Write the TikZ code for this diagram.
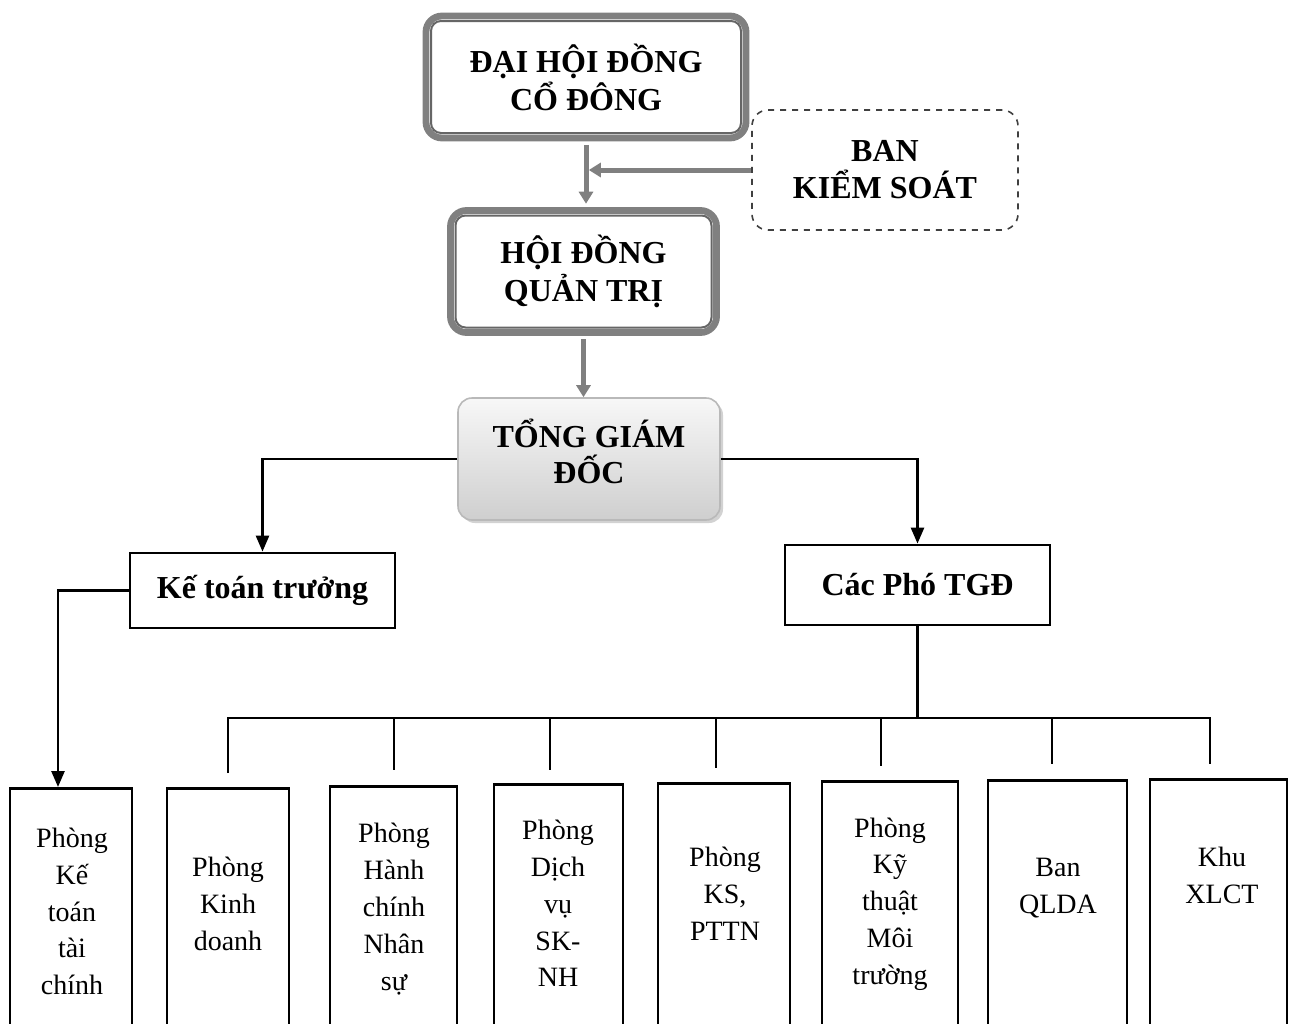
\documentclass[tikz,border=0pt]{standalone}
\usepackage{fontspec}
\setmainfont{Liberation Serif}
\usetikzlibrary{arrows.meta,shadows,calc}
\definecolor{bord}{RGB}{128,128,128}
\begin{document}
\begin{tikzpicture}[x=0.5pt,y=-0.5pt,
  topbox/.style={draw=bord, line width=3.4pt, rounded corners=8pt, fill=white, align=center, inner sep=0pt,
    font=\bfseries\fontsize{16}{19}\selectfont},
  innerline/.style={draw=bord!80!black, line width=1pt, rounded corners=5pt},
  bksbox/.style={draw=black!75, dashed, line width=0.8pt, rounded corners=8pt, align=center, inner sep=0pt,
    font=\bfseries\fontsize{16}{18.5}\selectfont},
  tgdbox/.style={draw=gray!55, line width=0.8pt, rounded corners=7pt, top color=gray!6, bottom color=gray!38,
    drop shadow={opacity=0.35, shadow xshift=1.5pt, shadow yshift=-1.5pt}, inner sep=0pt},
  tgdtext/.style={align=center, inner sep=0pt, font=\bfseries\fontsize{16}{18}\selectfont},
  midbox/.style={draw=black, line width=1.4pt, fill=white, inner sep=0pt, font=\bfseries\fontsize{16}{18}\selectfont},
  pbox/.style={draw=black, line width=1.4pt, anchor=north, minimum height=140pt, inner sep=0pt},
  ptext/.style={align=center, inner sep=0pt, font=\fontsize{14}{18.4}\selectfont},
  garrow/.style={draw=bord, line width=2.5pt, -{Triangle[length=6pt,width=7pt]}},
  conn/.style={draw=black, line width=1.3pt},
  carrow/.style={conn, -{Triangle[length=8pt,width=6.5pt]}}
]
\fill[white] (0,0) rectangle (1290,1023);
\useasboundingbox (0,0) rectangle (1290,1023);
\clip (0,0) rectangle (1290,1023);

% top boxes
\node[topbox, minimum width=160pt, minimum height=61pt] (dh) at (586,77) {ĐẠI HỘI ĐỒNG\\CỔ ĐÔNG};
\draw[innerline] ([shift={(4.2pt,-4.2pt)}]dh.north west) rectangle ([shift={(-4.2pt,4.2pt)}]dh.south east);
\node[bksbox, minimum width=133pt, minimum height=60pt] (bks) at (885,170) {BAN\\KIỂM SOÁT};
\node[topbox, minimum width=133pt, minimum height=61pt] (hd) at (583.5,271.5) {HỘI ĐỒNG\\QUẢN TRỊ};
\draw[innerline] ([shift={(4.2pt,-4.2pt)}]hd.north west) rectangle ([shift={(-4.2pt,4.2pt)}]hd.south east);
\node[tgdbox, minimum width=131pt, minimum height=61pt] (tgd) at (589,459) {};
\node[tgdtext] (tgdt) at (589,451) {TỔNG GIÁM\\ĐỐC};

% grey arrows
\draw[garrow] ([yshift=-1.7pt]dh.south) -- ([yshift=1.7pt]dh.south |- hd.north);
\draw[garrow] (bks.west) -- ([xshift=1.4pt]dh.south |- bks.west);
\draw[garrow] ([yshift=-1.7pt]hd.south) -- (hd.south |- tgd.north);

% middle level
\node[midbox, minimum width=132.5pt, minimum height=37.5pt] (ktt) at (262.5,590.5) {Kế toán trưởng};
\node[midbox, minimum width=132.5pt, minimum height=40pt] (cpt) at (917.5,585) {Các Phó TGĐ};

\draw[carrow] (tgd.west) -| (ktt.north);
\draw[carrow] (tgd.east) -| (cpt.north);

% bottom boxes
\node[pbox, minimum width=61pt] (b1) at (71,787) {};
\node[pbox, minimum width=61pt] (b2) at (228,787) {};
\node[pbox, minimum width=63.5pt] (b3) at (393.5,785) {};
\node[pbox, minimum width=64.5pt] (b4) at (558.5,783) {};
\node[pbox, minimum width=66pt] (b5) at (724,782) {};
\node[pbox, minimum width=68pt] (b6) at (890,780) {};
\node[pbox, minimum width=69.5pt] (b7) at (1057.5,779) {};
\node[pbox, minimum width=68.5pt] (b8) at (1218.5,778) {};

\node[ptext] (t1) at (72,911.5) {Phòng\\Kế\\toán\\tài\\chính};
\node[ptext] (t2) at (228,904) {Phòng\\Kinh\\doanh};
\node[ptext] (t3) at (394,909) {Phòng\\Hành\\chính\\Nhân\\sự};
\node[ptext] (t4) at (558,903.5) {Phòng\\Dịch\\vụ\\SK-\\NH};
\node[ptext] (t5) at (725,893.5) {Phòng\\KS,\\PTTN};
\node[ptext] (t6) at (890,904) {Phòng\\Kỹ\\thuật\\Môi\\trường};
\node[ptext] (t7) at (1058,888) {Ban\\QLDA};
\node[ptext] (t8) at (1222,875.5) {Khu\\XLCT};

% Ke toan truong -> Phong KTTC
\draw[carrow] (ktt.west) -| ([xshift=-6.5pt]b1.north);

% bus from Cac Pho TGD
\coordinate (busL) at (228,718);
\coordinate (busR) at (1210,718);
\coordinate (e2) at (228,773);
\coordinate (e3) at (394,770);
\coordinate (e4) at (550,770);
\coordinate (e5) at (716,768);
\coordinate (e6) at (881,766);
\coordinate (e7) at (1052,764);
\coordinate (e8) at (1210,764);
\draw[conn] (cpt.south) -- (cpt.south |- busL);
\draw[conn] (e2) -- (busL) -- (busR) -- (e8);
\foreach \e in {e3,e4,e5,e6,e7} \draw[conn] (\e |- busL) -- (\e);
\end{tikzpicture}
\end{document}
